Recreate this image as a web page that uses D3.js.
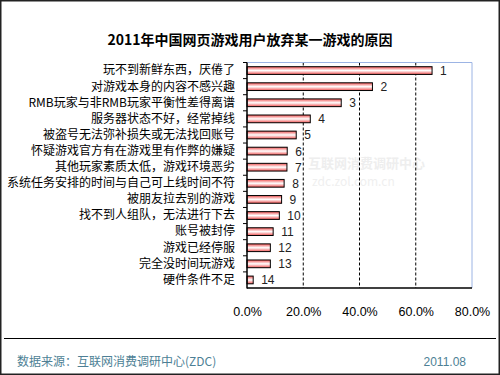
<!DOCTYPE html>
<html><head><meta charset="utf-8">
<script src="https://cdn.jsdelivr.net/npm/d3@7"></script>
<style>body{margin:0;background:#fff}svg{display:block}</style>
</head><body>
<script>
const categories = ["玩不到新鲜东西，厌倦了","对游戏本身的内容不感兴趣","RMB玩家与非RMB玩家平衡性差得离谱","服务器状态不好，经常掉线","被盗号无法弥补损失或无法找回账号","怀疑游戏官方有在游戏里有作弊的嫌疑","其他玩家素质太低，游戏环境恶劣","系统任务安排的时间与自己可上线时间不符","被朋友拉去别的游戏","找不到人组队，无法进行下去","账号被封停","游戏已经停服","完全没时间玩游戏","硬件条件不足"];
const values = [65.8,44.6,33.5,22.5,17.5,14.3,14.2,13.2,12.3,11.5,9.3,8.3,8.3,2.2];
const ranks = ["1","2","3","4","5","6","7","8","9","10","11","12","13","14"];
const ticks = [0,20,40,60,80];
const title = "2011年中国网页游戏用户放弃某一游戏的原因";
const source = "数据来源：互联网消费调研中心(ZDC)";
const date = "2011.08";

(function(){
const W=500,H=375;
const svg=d3.select("body").append("svg").attr("width",W).attr("height",H)
  .style("font-family","'Noto Sans CJK SC','Liberation Sans',sans-serif");
const defs=svg.append("defs");
const g=defs.append("linearGradient").attr("id","bg").attr("x1",0).attr("y1",0).attr("x2",0).attr("y2",1);
g.append("stop").attr("offset","0%").attr("stop-color","#f05050");
g.append("stop").attr("offset","50%").attr("stop-color","#ffffff");
g.append("stop").attr("offset","100%").attr("stop-color","#f05050");

svg.append("rect").attr("x",0.75).attr("y",0.75).attr("width",W-1.5).attr("height",H-1.5)
  .attr("fill","#fff").attr("stroke","#222").attr("stroke-width",1.5);

svg.append("text").attr("x",250).attr("y",45).attr("text-anchor","middle")
  .attr("font-size",14).attr("font-weight","bold").attr("fill","#000").text(title);

const pl=247, pr=472, pt=62.5, pb=288;
const x=d3.scaleLinear().domain([0,80]).range([pl,pr]);
const y=d3.scaleBand().domain(categories).range([pt,pb]).paddingInner(0.52).paddingOuter(0.26);
const yb=d3.scaleBand().domain(categories).range([pt,pb]);

// watermark (faint)
svg.append("text").attr("x",308).attr("y",168).attr("font-size",13)
  .attr("font-weight","bold").attr("fill","#eeeeee").text("互联网消费调研中心");
svg.append("text").attr("x",312).attr("y",186).attr("font-size",12)
  .attr("fill","#efefef").text("zdc.zol.com.cn");

// grid
svg.append("g").selectAll("line").data(ticks.slice(1,-1)).join("line")
  .attr("x1",d=>x(d)).attr("x2",d=>x(d)).attr("y1",pt).attr("y2",pb)
  .attr("stroke","#000").attr("stroke-dasharray","3,2").attr("stroke-width",1);
svg.append("path").attr("d",`M${pl},${pt}H${pr}V${pb}`).attr("fill","none").attr("stroke","#9cb4e4");

// bars
svg.append("g").selectAll("rect").data(values).join("rect")
  .attr("x",pl).attr("y",(d,i)=>y(categories[i]))
  .attr("width",d=>x(d)-pl).attr("height",y.bandwidth())
  .attr("fill","url(#bg)").attr("stroke","#000").attr("stroke-width",1);

svg.append("g").selectAll("text").data(values).join("text")
  .attr("x",d=>x(d)+8).attr("y",(d,i)=>y(categories[i])+y.bandwidth()/2+4.5)
  .attr("font-size",12).attr("font-family","'Liberation Sans',Arial,sans-serif").attr("fill","#222").text((d,i)=>ranks[i]);

// y axis
const yAxis=d3.axisLeft(yb).tickSize(0).tickFormat(d=>d);
const ya=svg.append("g").attr("transform",`translate(${pl},0)`).call(yAxis);
ya.select(".domain").remove();
ya.selectAll("text").attr("x",-12).attr("font-size",12).attr("fill","#000")
  .attr("font-family","'Noto Sans CJK SC',sans-serif");
svg.append("g").selectAll("line").data(categories).join("line")
  .attr("x1",pl-4).attr("x2",pl).attr("y1",d=>yb(d)).attr("y2",d=>yb(d)).attr("stroke","#000");
svg.append("line").attr("x1",pl).attr("x2",pl).attr("y1",pt).attr("y2",pb+0.5).attr("stroke","#000").attr("stroke-width",1.5);
svg.append("line").attr("x1",pl).attr("x2",pr).attr("y1",pb).attr("y2",pb).attr("stroke","#000").attr("stroke-width",1.5);

// x tick labels
const xAxis=d3.axisBottom(x).tickValues(ticks).tickSize(0).tickFormat(d=>d.toFixed(1)+"%");
const xa=svg.append("g").attr("transform",`translate(0,${pb+16})`).call(xAxis);
xa.select(".domain").remove();
xa.selectAll("text").attr("font-size",12.5).attr("fill","#000").attr("font-family","'Liberation Sans',Arial,sans-serif");

// footer
svg.append("line").attr("x1",4).attr("x2",496).attr("y1",338.5).attr("y2",338.5).attr("stroke","#000").attr("stroke-width",1);
svg.append("text").attr("x",17).attr("y",366).attr("font-size",12).attr("fill","#4d7f95").text(source);
svg.append("text").attr("x",466).attr("y",366).attr("text-anchor","end").attr("font-size",12).attr("fill","#4d7f95")
  .attr("font-family","'Liberation Sans',Arial,sans-serif").text(date);
})();
</script>
</body></html>
